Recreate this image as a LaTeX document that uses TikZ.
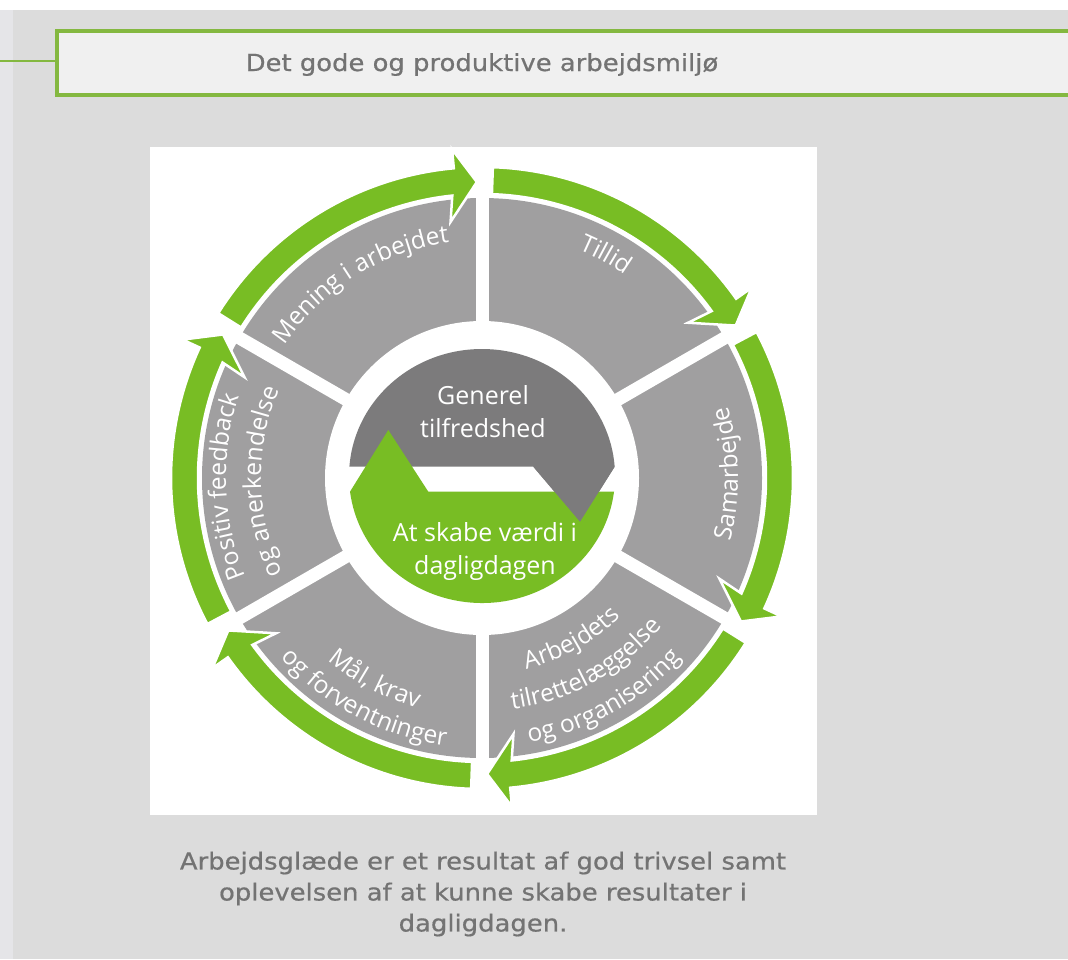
\documentclass[tikz,border=0pt]{standalone}
\usepackage{fontspec}
\setmainfont{DejaVu Sans}
\newfontfamily\osans{Open Sans}
\newfontfamily\capfont[FakeStretch=1.1,FakeBold=0.6]{DejaVu Sans}
\usetikzlibrary{decorations.text}
\definecolor{bgg}{RGB}{220,220,220}
\definecolor{edgeg}{RGB}{229,229,232}
\definecolor{hdrg}{RGB}{132,184,64}
\definecolor{hdrfill}{RGB}{240,240,240}
\definecolor{txtg}{RGB}{115,115,115}
\definecolor{segg}{RGB}{160,159,160}
\definecolor{hubg}{RGB}{124,123,124}
\definecolor{arrg}{RGB}{120,189,36}
\newcommand\segfont{\fontsize{24.5}{28}\selectfont\osans}
\tikzset{
  segtext/.style={decorate, decoration={text along path, text align=center, text color=white, text={|\segfont|#1}}},
  arrowband/.style={fill=arrg, draw=white, line width=2.5pt, line join=miter},
  hubtext/.style={text=white, align=center, font=\fontsize{25}{33}\selectfont\osans, inner sep=0pt},
  captext/.style={text=txtg, align=center, font=\fontsize{23.5}{31}\selectfont\capfont, inner sep=0pt}
}
\newcommand\cwtxt[3]{\path[segtext={#3}] (#1+30:#2) arc[start angle=#1+30, end angle=#1-30, radius=#2];}
\newcommand\ccwtxt[3]{\path[segtext={#3}] (#1-30:#2) arc[start angle=#1-30, end angle=#1+30, radius=#2];}
\begin{document}
\begin{tikzpicture}[x=1pt,y=1pt]
\useasboundingbox (0,0) rectangle (1068,-959);
\fill[white] (0,0) rectangle (1068,-959);
\fill[edgeg] (0,-10) rectangle (13,-959);
\fill[bgg] (13,-10) rectangle (1068,-959);
% header
\node[draw=hdrg, line width=4pt, fill=hdrfill, minimum width=1040pt, minimum height=64pt, anchor=west, inner sep=0pt] (hdr) at (54.5,-63) {};
\coordinate (lstart) at (0,-61);
\draw[hdrg, line width=2pt] (lstart) -- (lstart -| hdr.west);
\node[captext, anchor=base] (htitle) at (482,-71) {Det gode og produktive arbejdsmiljø};
% panel
\node[fill=white, minimum width=667pt, minimum height=668pt, inner sep=0pt, anchor=north west] (panel) at (150,-147) {};
% caption
\node[captext] (cap) at (483,-894) {Arbejdsglæde er et resultat af god trivsel samt\\oplevelsen af at kunne skabe resultater i\\dagligdagen.};
% wheel
\begin{scope}[shift={(482,-478)}]
  \fill[segg] (0,0) circle[radius=280];
  \fill[white] (0,0) circle[radius=157];
  \foreach \a in {30,90,...,330} \draw[white, line width=13pt] (\a:150) -- (\a:300);
  % hub
  \fill[hubg] (-132.6,11.3) arc[start angle=175.8, end angle=4.2, x radius=133, y radius=127] -- (98,-43.7) -- (51.3,11.3) -- cycle;
  \fill[arrg] (-132,-13.7) -- (-93.7,48) -- (-53.7,-13.7) -- (132,-13.7) arc[start angle=-7.1, end angle=-172.9, x radius=133, y radius=127] -- cycle;
  \fill[hubg] (51.3,11.3) -- (132.6,11.3) -- (98,-43.7) -- cycle;
  \node[hubtext] (hubtop) at (1,66) {Generel\\tilfredshed};
  \node[hubtext] (hubbot) at (3,-73) {At skabe værdi i\\dagligdagen};
  % green arrows
  \foreach \g in {150,90,30,-30,-90,-150} {
    \pgfmathsetmacro\ao{\g-2}
    \pgfmathsetmacro\ab{\g-54}
    \pgfmathsetmacro\abo{\g-54.8}
    \pgfmathsetmacro\abb{\g-53}
    \pgfmathsetmacro\at{\g-59}
    \path[arrowband] (\ao:311) arc[start angle=\ao, end angle=\abo, radius=311] -- (\abo:330) -- (\at:296) -- (\abb:258) -- (\ab:284) arc[start angle=\ab, end angle=\ao, radius=284] -- cycle;
  }
  % segment texts
  \cwtxt{122}{238}{Mening i arbejdet}
  \cwtxt{61}{248}{Tillid}
  \ccwtxt{1}{256}{Samarbejde}
  \ccwtxt{-61}{196}{Arbejdets}
  \ccwtxt{-61}{233}{tilrettelæggelse}
  \ccwtxt{-61}{269}{og organisering}
  \ccwtxt{-118}{239}{Mål, krav}
  \ccwtxt{-118}{270}{og forventninger}
  \cwtxt{182}{256}{Positiv feedback}
  \cwtxt{181}{221}{og anerkendelse}
\end{scope}
\end{tikzpicture}
\end{document}
